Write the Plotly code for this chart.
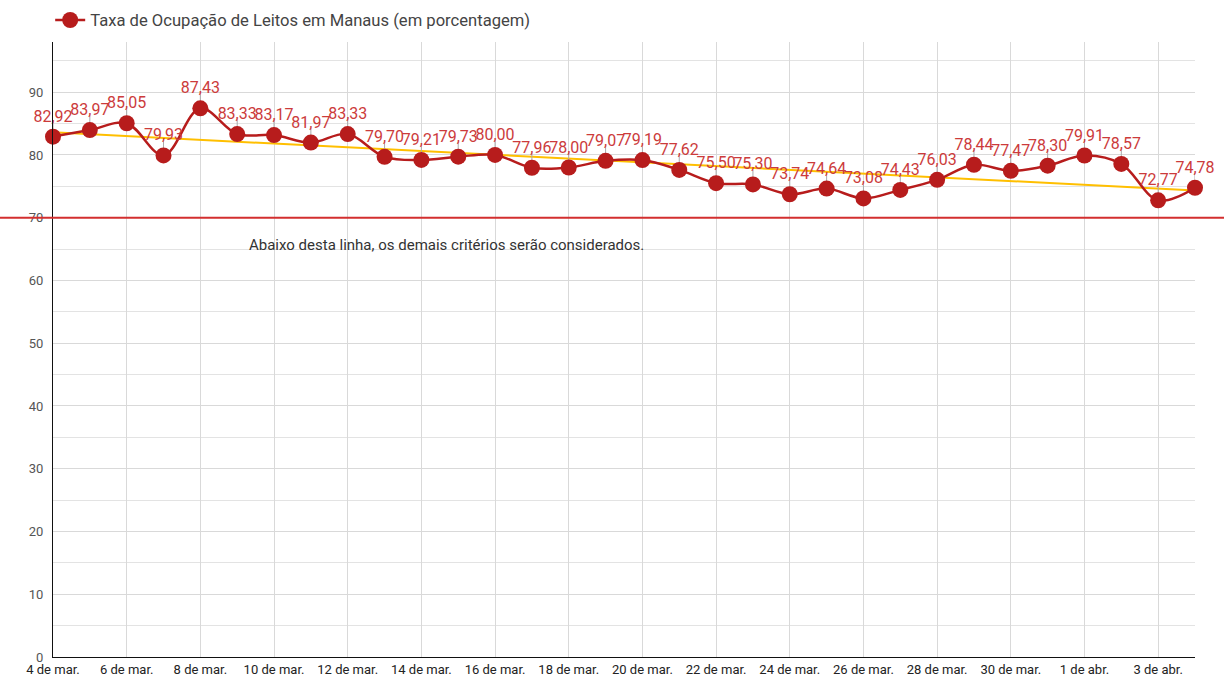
import plotly.graph_objects as go

dates = [
    "2021-03-04", "2021-03-05", "2021-03-06", "2021-03-07", "2021-03-08", "2021-03-09",
    "2021-03-10", "2021-03-11", "2021-03-12", "2021-03-13", "2021-03-14", "2021-03-15",
    "2021-03-16", "2021-03-17", "2021-03-18", "2021-03-19", "2021-03-20", "2021-03-21",
    "2021-03-22", "2021-03-23", "2021-03-24", "2021-03-25", "2021-03-26", "2021-03-27",
    "2021-03-28", "2021-03-29", "2021-03-30", "2021-03-31", "2021-04-01", "2021-04-02",
    "2021-04-03", "2021-04-04",
]
ocupacao = [
    82.92, 83.97, 85.05, 79.93, 87.43, 83.33, 83.17, 81.97, 83.33, 79.70, 79.21, 79.73,
    80.00, 77.96, 78.00, 79.07, 79.19, 77.62, 75.50, 75.30, 73.74, 74.64, 73.08, 74.43,
    76.03, 78.44, 77.47, 78.30, 79.91, 78.57, 72.77, 74.78,
]
tick_dates = [
    "2021-03-04", "2021-03-06", "2021-03-08", "2021-03-10", "2021-03-12", "2021-03-14",
    "2021-03-16", "2021-03-18", "2021-03-20", "2021-03-22", "2021-03-24", "2021-03-26",
    "2021-03-28", "2021-03-30", "2021-04-01", "2021-04-03",
]
tick_labels = [
    "4 de mar.", "6 de mar.", "8 de mar.", "10 de mar.", "12 de mar.", "14 de mar.",
    "16 de mar.", "18 de mar.", "20 de mar.", "22 de mar.", "24 de mar.", "26 de mar.",
    "28 de mar.", "30 de mar.", "1 de abr.", "3 de abr.",
]
trend_dates = ["2021-03-04", "2021-04-04"]
trend_values = [83.6, 74.35]
limite = 70
y_ticks = [0, 10, 20, 30, 40, 50, 60, 70, 80, 90]
serie_nome = "Taxa de Ocupação de Leitos em Manaus (em porcentagem)"
nota = "Abaixo desta linha, os demais critérios serão considerados."

FONT = "Roboto, Arial, sans-serif"
L, R, T, B = 53, 29, 42, 20
W, H = 1224, 677
plot_w = W - L - R

fig = go.Figure()

fig.add_trace(go.Scatter(
    x=trend_dates, y=trend_values, mode="lines",
    line=dict(color="#ffbf00", width=2),
    showlegend=False, hoverinfo="skip", cliponaxis=False,
))

fig.add_trace(go.Scatter(
    x=dates, y=ocupacao, name=serie_nome,
    mode="lines+markers+text", cliponaxis=False,
    line=dict(color="#b71c1c", width=2.5, shape="spline", smoothing=1.0),
    marker=dict(color="#b71c1c", size=16),
    texttemplate="%{y:.2f}", textposition="top center",
    textfont=dict(family=FONT, size=16, color="#cc3b3b"),
    error_y=dict(type="data", symmetric=False, array=[2.3] * len(dates),
                 arrayminus=[0] * len(dates), color="#aaaaaa", thickness=1, width=0),
))

fig.add_shape(type="line", xref="paper", yref="y",
              x0=-L / plot_w, x1=1 + R / plot_w, y0=limite, y1=limite,
              line=dict(color="#d32f2f", width=2), layer="above")

fig.add_annotation(text=nota, xref="paper", yref="y",
                   x=(446.5 - L) / plot_w, y=65.6, showarrow=False,
                   font=dict(family=FONT, size=15, color="#333333"))

fig.update_layout(
    width=W, height=H,
    margin=dict(l=L, r=R, t=T, b=B, autoexpand=False),
    paper_bgcolor="white", plot_bgcolor="white",
    separators=",.",
    font=dict(family=FONT, size=13, color="#444444"),
    showlegend=True,
    legend=dict(orientation="h", xref="container", yref="container",
                x=0.041, y=0.996, xanchor="left", yanchor="top",
                font=dict(family=FONT, size=16.6, color="#444444"),
                bgcolor="rgba(0,0,0,0)"),
    xaxis=dict(
        type="date", range=["2021-03-04", "2021-04-04"],
        tickvals=tick_dates, ticktext=tick_labels,
        showgrid=True, gridcolor="#d9d9d9", gridwidth=1,
        showline=True, linecolor="#111111", linewidth=1.2,
        zeroline=False, ticks="",
        tickfont=dict(family=FONT, size=13, color="#222222"),
    ),
    yaxis=dict(
        range=[0, 98], tickvals=y_ticks,
        showgrid=True, gridcolor="#d9d9d9", gridwidth=1,
        minor=dict(dtick=5, showgrid=True, gridcolor="#e3e3e3", gridwidth=1),
        showline=True, linecolor="#111111", linewidth=1.2,
        zeroline=False, ticks="", ticklabelstandoff=6,
        tickfont=dict(family=FONT, size=13, color="#555555"),
    ),
)

fig.write_html("out.html", config={"displayModeBar": False},
               post_script="document.body.style.margin='0px';")
